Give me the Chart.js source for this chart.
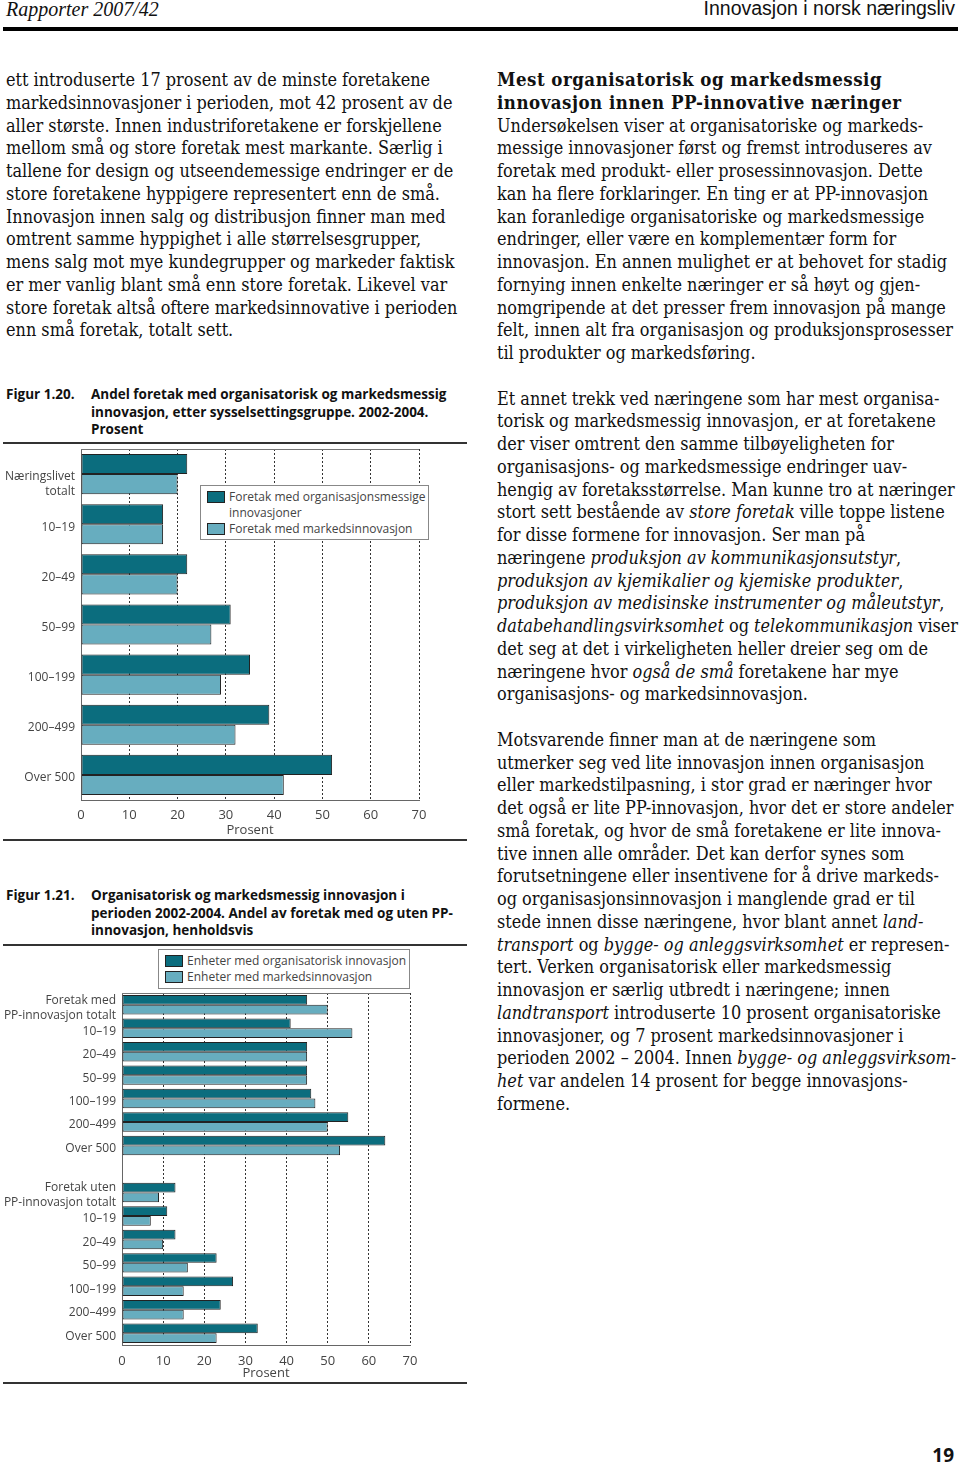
<!DOCTYPE html>
<html>
<head>
<meta charset="utf-8">
<script src="https://cdn.jsdelivr.net/npm/chart.js@4.4.1/dist/chart.umd.min.js"></script>
<style>
body{margin:0;background:#fff;}
#page{position:relative;width:960px;height:1465px;overflow:hidden;color:#111;}
.abs{position:absolute;}
.rule{position:absolute;background:#333;}
.hdl{left:6px;top:-2px;font:italic 20px 'Liberation Serif',serif;}
.hdr{right:5px;top:-3px;font:19.5px 'Liberation Sans Narrow','Liberation Sans',sans-serif;font-stretch:condensed;}
.col{font-family:'DejaVu Serif Condensed','DejaVu Serif',serif;font-stretch:condensed;font-size:17.9px;line-height:22.75px;white-space:nowrap;}
.col b{font-weight:bold;font-size:18.5px;letter-spacing:0.5px;}
.cap{font:bold 13.5px 'Open Sans',sans-serif;line-height:17.5px;white-space:nowrap;color:#111;}
.legend{position:absolute;background:#fff;border:1px solid #888;font:12px 'Open Sans',sans-serif;color:#444;line-height:16px;box-sizing:border-box;white-space:nowrap;}
.legend .it{position:relative;padding-left:28px;}
.legend .sw{position:absolute;left:6px;top:2px;width:18px;height:12px;border:1px solid #222;box-sizing:border-box;}
canvas{position:absolute;left:0;}
.pno{right:6px;top:1442px;font:bold 19px 'Open Sans',sans-serif;}
</style>
</head>
<body>
<div id="page">
  <div class="abs hdl">Rapporter 2007/42</div>
  <div class="abs hdr">Innovasjon i norsk næringsliv</div>
  <div class="rule" style="left:3px;top:27px;width:955px;height:4px;background:#000"></div>

  <div class="abs col" style="left:6px;top:69px;">ett introduserte 17 prosent av de minste foretakene<br>markedsinnovasjoner i perioden, mot 42 prosent av de<br>aller største. Innen industriforetakene er forskjellene<br>mellom små og store foretak mest markante. Særlig i<br>tallene for design og utseendemessige endringer er de<br>store foretakene hyppigere representert enn de små.<br>Innovasjon innen salg og distribusjon finner man med<br>omtrent samme hyppighet i alle størrelsesgrupper,<br>mens salg mot mye kundegrupper og markeder faktisk<br>er mer vanlig blant små enn store foretak. Likevel var<br>store foretak altså oftere markedsinnovative i perioden<br>enn små foretak, totalt sett.</div>

  <div class="abs col" style="left:497px;top:69px;"><b>Mest organisatorisk og markedsmessig<br>innovasjon innen PP-innovative næringer</b><br>Undersøkelsen viser at organisatoriske og markeds-<br>messige innovasjoner først og fremst introduseres av<br>foretak med produkt- eller prosessinnovasjon. Dette<br>kan ha flere forklaringer. En ting er at PP-innovasjon<br>kan foranledige organisatoriske og markedsmessige<br>endringer, eller være en komplementær form for<br>innovasjon. En annen mulighet er at behovet for stadig<br>fornying innen enkelte næringer er så høyt og gjen-<br>nomgripende at det presser frem innovasjon på mange<br>felt, innen alt fra organisasjon og produksjonsprosesser<br>til produkter og markedsføring.<br>&nbsp;<br>Et annet trekk ved næringene som har mest organisa-<br>torisk og markedsmessig innovasjon, er at foretakene<br>der viser omtrent den samme tilbøyeligheten for<br>organisasjons- og markedsmessige endringer uav-<br>hengig av foretaksstørrelse. Man kunne tro at næringer<br>stort sett bestående av <i>store foretak</i> ville toppe listene<br>for disse formene for innovasjon. Ser man på<br>næringene <i>produksjon av kommunikasjonsutstyr</i>,<br><i>produksjon av kjemikalier og kjemiske produkter</i>,<br><i>produksjon av medisinske instrumenter og måleutstyr</i>,<br><i>databehandlingsvirksomhet</i> og <i>telekommunikasjon</i> viser<br>det seg at det i virkeligheten heller dreier seg om de<br>næringene hvor <i>også de små</i> foretakene har mye<br>organisasjons- og markedsinnovasjon.<br>&nbsp;<br>Motsvarende finner man at de næringene som<br>utmerker seg ved lite innovasjon innen organisasjon<br>eller markedstilpasning, i stor grad er næringer hvor<br>det også er lite PP-innovasjon, hvor det er store andeler<br>små foretak, og hvor de små foretakene er lite innova-<br>tive innen alle områder. Det kan derfor synes som<br>forutsetningene eller insentivene for å drive markeds-<br>og organisasjonsinnovasjon i manglende grad er til<br>stede innen disse næringene, hvor blant annet <i>land-</i><br><i>transport</i> og <i>bygge- og anleggsvirksomhet</i> er represen-<br>tert. Verken organisatorisk eller markedsmessig<br>innovasjon er særlig utbredt i næringene; innen<br><i>landtransport</i> introduserte 10 prosent organisatoriske<br>innovasjoner, og 7 prosent markedsinnovasjoner i<br>perioden 2002 – 2004. Innen <i>bygge- og anleggsvirksom-</i><br><i>het</i> var andelen 14 prosent for begge innovasjons-<br>formene.</div>

  <div class="abs cap" style="left:6px;top:386px;">Figur 1.20.</div>
  <div class="abs cap" style="left:91px;top:386px;">Andel foretak med organisatorisk og markedsmessig<br>innovasjon, etter sysselsettingsgruppe. 2002-2004.<br>Prosent</div>
  <div class="rule" style="left:3px;top:442px;width:464px;height:2px;"></div>

  <canvas id="fig120" width="470" height="394" style="top:445px"></canvas>
  <div class="legend" id="leg120" style="left:200px;top:485px;width:229px;height:55px;padding-top:3px;"></div>
  <div class="rule" style="left:3px;top:839px;width:464px;height:2px;"></div>

  <div class="abs cap" style="left:6px;top:887px;">Figur 1.21.</div>
  <div class="abs cap" style="left:91px;top:887px;">Organisatorisk og markedsmessig innovasjon i<br>perioden 2002-2004. Andel av foretak med og uten PP-<br>innovasjon, henholdsvis</div>
  <div class="rule" style="left:3px;top:944px;width:464px;height:2px;"></div>

  <canvas id="fig121" width="470" height="434" style="top:947px"></canvas>
  <div class="legend" id="leg121" style="left:158px;top:949px;width:252px;height:40px;padding-top:3px;"></div>
  <div class="rule" style="left:3px;top:1382px;width:464px;height:2px;"></div>

  <div class="abs pno">19</div>
</div>

<script>
// figur 1.20 - sysselsettingsgrupper
// (blank first line so "Næringslivet" sits level with its bars, as in print)
const sizeGroups = [['', 'Næringslivet', 'totalt'], '10–19', '20–49', '50–99', '100–199', '200–499', 'Over 500'];
const orgShare = [22, 17, 22, 31, 35, 39, 52];
const marketShare = [20, 17, 20, 27, 29, 32, 42];
const names120 = [['Foretak med organisasjonsmessige', 'innovasjoner'], ['Foretak med markedsinnovasjon']];

// figur 1.21 - med og uten PP-innovasjon
const ppLabels = [['Foretak med', 'PP-innovasjon totalt'], '10–19', '20–49', '50–99', '100–199', '200–499', 'Over 500',
                  '',
                  ['Foretak uten', 'PP-innovasjon totalt'], '10–19', '20–49', '50–99', '100–199', '200–499', 'Over 500'];
const orgWithPP = [45, 41, 45, 45, 46, 55, 64];
const marketWithPP = [50, 56, 45, 45, 47, 50, 53];
const orgWithoutPP = [13, 11, 13, 23, 27, 24, 33];
const marketWithoutPP = [9, 7, 10, 16, 15, 15, 23];
const names121 = [['Enheter med organisatorisk innovasjon'], ['Enheter med markedsinnovasjon']];

const xTicks = [0, 10, 20, 30, 40, 50, 60, 70];

//colors
const dark = '#0b6d7e';
const light = '#67adbf';
const edge = '#222';

Chart.defaults.font.family = "'Open Sans', sans-serif";
Chart.defaults.color = '#444';

//thin line on top of the plot box
const frameTop = {
    id: 'frameTop',
    beforeDatasetsDraw(chart) {
        const {ctx, chartArea} = chart;
        ctx.save();
        ctx.strokeStyle = '#777';
        ctx.lineWidth = 1;
        ctx.beginPath();
        ctx.moveTo(chartArea.left, chartArea.top + 0.5);
        ctx.lineTo(chartArea.right, chartArea.top + 0.5);
        ctx.stroke();
        ctx.restore();
    }
};

function makeConfig(labels, sets, opts) {
    return {
        type: 'bar',
        data: {
            labels: labels,
            datasets: sets.map(s => ({
                label: s.name.join(' '),
                data: s.data,
                backgroundColor: s.color,
                borderColor: edge,
                borderWidth: 1,
                borderSkipped: false,
                categoryPercentage: opts.catPct,
                barPercentage: 1.0
            }))
        },
        options: {
            indexAxis: 'y',
            responsive: false,
            animation: false,
            layout: {padding: opts.padding},
            plugins: {legend: {display: false}, tooltip: {enabled: false}},
            scales: {
                x: {
                    min: 0,
                    max: 70,
                    afterBuildTicks: axis => { axis.ticks = xTicks.map(v => ({value: v})); },
                    afterFit: axis => { axis.height = opts.xHeight; },
                    ticks: {color: '#444', font: {size: 13}, padding: opts.tickPad},
                    grid: {color: '#333', lineWidth: 1, drawTicks: false},
                    border: {display: true, color: '#666', width: 1, dash: [2, 2]},
                    title: {display: true, text: 'Prosent', color: '#444', font: {size: 13},
                            padding: {top: 0, bottom: opts.titlePad}}
                },
                y: {
                    afterFit: axis => {
                        axis.width = opts.yWidth;
                        // labels sit inside their bands, no extra room needed
                        axis.paddingTop = 0;
                        axis.paddingBottom = 0;
                    },
                    ticks: {color: '#444', font: {size: 12, lineHeight: 1.25}, padding: 6, autoSkip: false,
                            labelOffset: 3},
                    grid: {display: false, drawTicks: false},
                    border: {display: true, color: '#666', width: 1}
                }
            }
        },
        plugins: [frameTop]
    };
}

function fillLegend(id, sets) {
    const box = document.getElementById(id);
    box.innerHTML = sets.map(s =>
        '<div class="it"><span class="sw" style="background:' + s.color + '"></span>' + s.name.join('<br>') + '</div>'
    ).join('');
}

const sets120 = [
    {name: names120[0], data: orgShare, color: dark},
    {name: names120[1], data: marketShare, color: light}
];
new Chart(document.getElementById('fig120'), makeConfig(sizeGroups, sets120, {
    catPct: 0.8, padding: {top: 4, right: 51, left: 0, bottom: 0},
    xHeight: 39, yWidth: 81, tickPad: 7, titlePad: 1
}));
fillLegend('leg120', sets120);

const sets121 = [
    {name: names121[0], data: orgWithPP.concat([null], orgWithoutPP), color: dark},
    {name: names121[1], data: marketWithPP.concat([null], marketWithoutPP), color: light}
];
new Chart(document.getElementById('fig121'), makeConfig(ppLabels, sets121, {
    catPct: 0.83, padding: {top: 46, right: 60, left: 0, bottom: 0},
    xHeight: 36, yWidth: 122, tickPad: 8, titlePad: 0
}));
fillLegend('leg121', sets121);
</script>
</body>
</html>
